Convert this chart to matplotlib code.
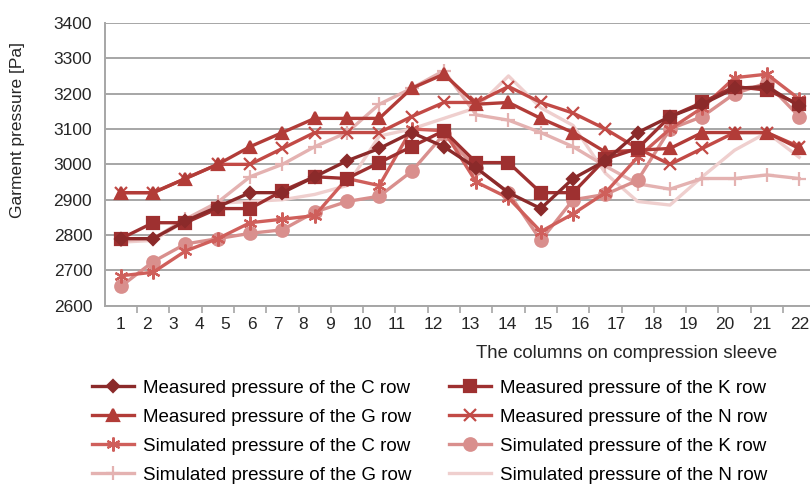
import numpy as np
import matplotlib
matplotlib.use("Agg")
import matplotlib.pyplot as plt

plt.rcParams['font.family'] = ['Liberation Sans', 'DejaVu Sans']

# columns on the sleeve
cols = list(range(1, 23))
col_labels = [str(c) for c in cols]

# measured pressures [Pa]
meas_c = [2790, 2790, 2840, 2880, 2920, 2920, 2965, 3010, 3045, 3090, 3050,
          2990, 2920, 2875, 2960, 3010, 3090, 3135, 3170, 3215, 3220, 3165]
meas_k = [2790, 2835, 2835, 2875, 2875, 2925, 2965, 2960, 3005, 3050, 3095,
          3005, 3005, 2920, 2920, 3015, 3045, 3135, 3175, 3220, 3210, 3170]
meas_g = [2920, 2920, 2960, 3000, 3050, 3090, 3130, 3130, 3130, 3215, 3255,
          3170, 3175, 3130, 3090, 3035, 3040, 3045, 3090, 3090, 3090, 3045]
meas_n = [2920, 2920, 2960, 3000, 3000, 3045, 3090, 3090, 3090, 3135, 3175,
          3175, 3220, 3175, 3145, 3100, 3045, 3000, 3045, 3090, 3090, 3050]

# simulated pressures [Pa]
sim_c = [2685, 2695, 2755, 2790, 2835, 2845, 2855, 2960, 2940, 3100, 3095,
         2950, 2905, 2810, 2860, 2920, 3020, 3100, 3160, 3245, 3255, 3185]
sim_k = [2655, 2725, 2775, 2790, 2805, 2815, 2865, 2895, 2910, 2980, 3085,
         2990, 2920, 2785, 2900, 2915, 2955, 3100, 3135, 3200, 3230, 3135]
sim_g = [2785, 2790, 2845, 2893, 2965, 3000, 3050, 3090, 3170, 3215, 3265,
         3140, 3125, 3090, 3050, 2995, 2945, 2930, 2960, 2960, 2970, 2960]
sim_n = [2780, 2785, 2840, 2890, 2895, 2900, 2915, 2940, 3080, 3100, 3130,
         3160, 3250, 3160, 3110, 2975, 2895, 2885, 2965, 3040, 3090, 3020]

# where the column numbers sit under the axis (they are not evenly spaced)
label_pos = [1.00, 1.82, 2.63, 3.42, 4.23, 5.06, 5.86, 6.65, 7.46, 8.46, 9.54,
             10.68, 11.81, 12.95, 14.07, 15.21, 16.33, 17.47, 18.56, 19.71,
             20.85, 22.03]

fig = plt.figure(figsize=(8.1, 4.87), dpi=100)
ax = fig.add_axes([0.1293, 0.372, 0.8773, 0.581])

lw = 2.4
series = [
    (meas_c, '#8B2A2A', 'D', 6, 'Measured pressure of the C row'),
    (meas_g, '#B23C38', '^', 8, 'Measured pressure of the G row'),
    (sim_c, '#CF5F5B', (6, 2, 0), 10, 'Simulated pressure of the C row'),
    (sim_g, '#E4B2B1', '+', 10, 'Simulated pressure of the G row'),
    (meas_k, '#9E3030', 's', 8, 'Measured pressure of the K row'),
    (meas_n, '#C24A46', 'x', 8, 'Measured pressure of the N row'),
    (sim_k, '#D98F8D', 'o', 9, 'Simulated pressure of the K row'),
    (sim_n, '#EFCFCE', None, 0, 'Simulated pressure of the N row'),
]

# draw light ones first so the measured rows sit on top
draw_order = [7, 3, 6, 2, 5, 1, 4, 0]
handles = [None] * len(series)
for i in draw_order:
    vals, colr, mk, ms, lab = series[i]
    h, = ax.plot(cols, vals, color=colr, lw=lw, marker=mk, ms=ms,
                 mew=1.6, mfc=colr, mec=colr, label=lab, zorder=3 + draw_order.index(i))
    handles[i] = h

ax.set_xlim(0.5, 22.5)
ax.set_ylim(2600, 3400)
ax.set_yticks(np.arange(2600, 3401, 100))
ax.yaxis.grid(True, color='#A6A6A6', lw=1.4)
ax.set_axisbelow(True)

ax.set_xticks(np.arange(1.5, 22, 1))
ax.set_xticklabels([])
ax.set_xticks(label_pos, minor=True)
ax.set_xticklabels(col_labels, minor=True)
ax.tick_params(axis='x', which='major', length=5, width=1.2, color='#A6A6A6', direction='out')
ax.tick_params(axis='x', which='minor', length=0, pad=8, labelsize=12.5, labelcolor='#262626')
ax.tick_params(axis='y', length=0, pad=9, labelsize=12.5, labelcolor='#262626')

for s in ['top', 'right']:
    ax.spines[s].set_visible(False)
for s in ['left', 'bottom']:
    ax.spines[s].set_color('#A6A6A6')
    ax.spines[s].set_linewidth(1.4)

fig.text(18 / 810, 1 - 130 / 487, 'Garment pressure [Pa]', rotation=90,
         ha='center', va='center', fontsize=12.5, color='#262626')
fig.text(777 / 810, 1 - 353 / 487, 'The columns on compression sleeve',
         ha='right', va='center', fontsize=13.4, color='#262626')

fig.legend(handles=handles, loc='upper left', bbox_to_anchor=(84 / 810, 1 - 372 / 487),
           ncol=2, frameon=False, fontsize=13.5, handlelength=2.25,
           columnspacing=2.0, labelspacing=0.64, handletextpad=0.5, borderaxespad=0)

fig.savefig('out.png', dpi=100)
